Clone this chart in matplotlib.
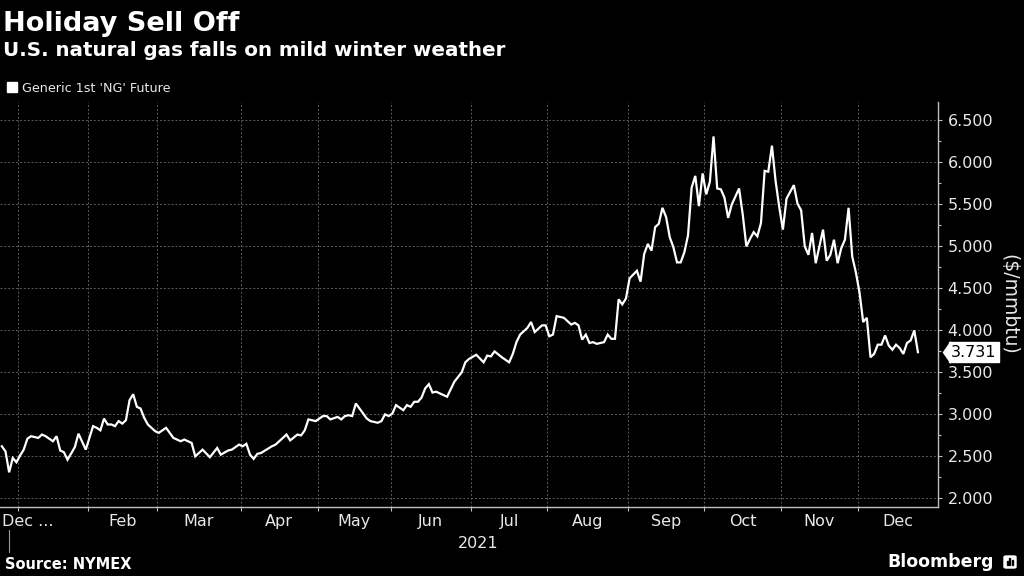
import matplotlib.pyplot as plt
import matplotlib.transforms as mtransforms
from matplotlib.patches import Rectangle, FancyBboxPatch
import numpy as np

# Generic 1st 'NG' future, daily settles
dates = [
    '2020-12-24', '2020-12-28', '2020-12-29', '2020-12-30', '2020-12-31',
    '2021-01-04', '2021-01-05', '2021-01-06', '2021-01-07', '2021-01-11',
    '2021-01-12', '2021-01-13', '2021-01-15', '2021-01-19', '2021-01-20',
    '2021-01-21', '2021-01-22', '2021-01-26', '2021-01-27', '2021-01-29',
    '2021-02-02', '2021-02-03', '2021-02-04', '2021-02-05', '2021-02-08',
    '2021-02-09', '2021-02-10', '2021-02-11', '2021-02-12', '2021-02-16',
    '2021-02-17', '2021-02-18', '2021-02-19', '2021-02-22', '2021-02-23',
    '2021-02-24', '2021-02-26', '2021-03-01', '2021-03-03', '2021-03-04',
    '2021-03-05', '2021-03-09', '2021-03-10', '2021-03-12', '2021-03-15',
    '2021-03-17', '2021-03-19', '2021-03-23', '2021-03-24', '2021-03-26',
    '2021-03-29', '2021-03-31', '2021-04-01', '2021-04-05', '2021-04-06',
    '2021-04-07', '2021-04-08', '2021-04-09', '2021-04-14', '2021-04-15',
    '2021-04-16', '2021-04-20', '2021-04-21', '2021-04-23', '2021-04-26',
    '2021-04-27', '2021-04-28', '2021-04-30', '2021-05-04', '2021-05-05',
    '2021-05-06', '2021-05-10', '2021-05-11', '2021-05-12', '2021-05-13',
    '2021-05-14', '2021-05-17', '2021-05-19', '2021-05-20', '2021-05-21',
    '2021-05-25', '2021-05-26', '2021-05-27', '2021-05-28', '2021-06-01',
    '2021-06-02', '2021-06-04', '2021-06-07', '2021-06-08', '2021-06-09',
    '2021-06-10', '2021-06-11', '2021-06-14', '2021-06-15', '2021-06-16',
    '2021-06-17', '2021-06-21', '2021-06-22', '2021-06-24', '2021-06-28',
    '2021-06-29', '2021-06-30', '2021-07-02', '2021-07-07', '2021-07-08',
    '2021-07-09', '2021-07-12', '2021-07-14', '2021-07-16', '2021-07-19',
    '2021-07-20', '2021-07-21', '2021-07-23', '2021-07-26', '2021-07-27',
    '2021-07-29', '2021-07-30', '2021-08-02', '2021-08-03', '2021-08-04',
    '2021-08-06', '2021-08-10', '2021-08-11', '2021-08-12', '2021-08-13',
    '2021-08-16', '2021-08-17', '2021-08-18', '2021-08-19', '2021-08-23',
    '2021-08-24', '2021-08-25', '2021-08-26', '2021-08-27', '2021-08-30',
    '2021-08-31', '2021-09-01', '2021-09-03', '2021-09-07', '2021-09-08',
    '2021-09-09', '2021-09-10', '2021-09-13', '2021-09-14', '2021-09-15',
    '2021-09-16', '2021-09-17', '2021-09-20', '2021-09-21', '2021-09-22',
    '2021-09-23', '2021-09-24', '2021-09-27', '2021-09-28', '2021-09-29',
    '2021-09-30', '2021-10-01', '2021-10-04', '2021-10-05', '2021-10-06',
    '2021-10-07', '2021-10-08', '2021-10-11', '2021-10-12', '2021-10-14',
    '2021-10-15', '2021-10-18', '2021-10-19', '2021-10-20', '2021-10-21',
    '2021-10-22', '2021-10-25', '2021-10-26', '2021-10-27', '2021-10-28',
    '2021-10-29', '2021-11-01', '2021-11-02', '2021-11-03', '2021-11-04',
    '2021-11-05', '2021-11-08', '2021-11-09', '2021-11-10', '2021-11-11',
    '2021-11-12', '2021-11-15', '2021-11-16', '2021-11-17', '2021-11-18',
    '2021-11-19', '2021-11-22', '2021-11-23', '2021-11-24', '2021-11-26',
    '2021-11-29', '2021-11-30', '2021-12-01', '2021-12-02', '2021-12-03',
    '2021-12-06', '2021-12-07', '2021-12-08', '2021-12-09', '2021-12-10',
    '2021-12-13', '2021-12-14', '2021-12-15', '2021-12-16', '2021-12-17',
    '2021-12-20', '2021-12-21', '2021-12-22', '2021-12-23',
]
prices = [
    2.61, 2.55, 2.30, 2.47, 2.42,
    2.50, 2.57, 2.70, 2.73, 2.71,
    2.75, 2.73, 2.67, 2.73, 2.56,
    2.54, 2.45, 2.60, 2.76, 2.57,
    2.85, 2.83, 2.80, 2.94, 2.87,
    2.87, 2.85, 2.91, 2.88, 2.92,
    3.16, 3.23, 3.08, 3.06, 2.95,
    2.87, 2.79, 2.77, 2.83, 2.77,
    2.71, 2.67, 2.69, 2.65, 2.49,
    2.57, 2.48, 2.59, 2.51, 2.56,
    2.57, 2.63, 2.61, 2.64, 2.51,
    2.46, 2.52, 2.53, 2.61, 2.63,
    2.67, 2.75, 2.68, 2.75, 2.74,
    2.80, 2.93, 2.91, 2.97, 2.97,
    2.93, 2.96, 2.93, 2.97, 2.98,
    2.97, 3.12, 3.00, 2.94, 2.91,
    2.89, 2.91, 2.99, 2.97, 3.00,
    3.10, 3.04, 3.10, 3.08, 3.14,
    3.14, 3.19, 3.30, 3.35, 3.25,
    3.26, 3.22, 3.20, 3.38, 3.49,
    3.61, 3.65, 3.70, 3.61, 3.69,
    3.68, 3.74, 3.67, 3.61, 3.71,
    3.85, 3.94, 4.02, 4.09, 3.97,
    4.05, 4.05, 3.92, 3.94, 4.16,
    4.14, 4.06, 4.08, 4.05, 3.88,
    3.94, 3.84, 3.85, 3.83, 3.85,
    3.94, 3.89, 3.89, 4.36, 4.30,
    4.37, 4.61, 4.70, 4.57, 4.90,
    5.02, 4.94, 5.22, 5.26, 5.45,
    5.34, 5.10, 4.98, 4.80, 4.80,
    4.92, 5.12, 5.69, 5.83, 5.47,
    5.86, 5.61, 5.76, 6.30, 5.68,
    5.67, 5.57, 5.33, 5.49, 5.68,
    5.37, 4.99, 5.08, 5.16, 5.11,
    5.27, 5.89, 5.88, 6.19, 5.77,
    5.46, 5.19, 5.56, 5.64, 5.72,
    5.50, 5.42, 4.99, 4.89, 5.15,
    4.79, 4.99, 5.19, 4.82, 4.89,
    5.07, 4.79, 4.97, 5.07, 5.45,
    4.87, 4.68, 4.44, 4.09, 4.14,
    3.67, 3.71, 3.82, 3.82, 3.93,
    3.81, 3.76, 3.82, 3.78, 3.71,
    3.84, 3.87, 3.99, 3.731,
]

# NYMEX holidays; the chart's x axis counts trading sessions, not calendar days
holidays = ['2020-12-25', '2021-01-01', '2021-01-18', '2021-02-15', '2021-04-02',
            '2021-05-31', '2021-07-05', '2021-09-06', '2021-11-25', '2021-12-24']
start = '2020-12-24'
month_names = ['Jan', 'Feb', 'Mar', 'Apr', 'May', 'Jun',
               'Jul', 'Aug', 'Sep', 'Oct', 'Nov', 'Dec']
y_ticks = [2.0, 2.5, 3.0, 3.5, 4.0, 4.5, 5.0, 5.5, 6.0, 6.5]

BG = 'black'
FG = 'white'
TICK_COL = '#e8e8e8'
GRID_COL = '#5c5c5c'

sessions = np.busday_count(start, np.array(dates, dtype='datetime64[D]'), holidays=holidays)
months = np.arange('2021-01', '2022-02', dtype='datetime64[M]').astype('datetime64[D]')
firsts = np.busday_offset(months, 0, roll='forward', holidays=holidays)
bounds = np.busday_count(start, firsts, holidays=holidays) - 0.5   # Jan 2021 .. Jan 2022
x_left = -0.5
x_right = bounds[-1]

fig = plt.figure(figsize=(10.24, 5.76), dpi=100, facecolor=BG)
ax = fig.add_axes([0.0, 1 - 507 / 576, 938 / 1024, 405 / 576])
ax.set_facecolor(BG)

ax.plot(sessions, prices, color=FG, lw=1.6, solid_joinstyle='miter')

ax.set_xlim(x_left, x_right)
ax.set_ylim(1.887, 6.71)

# month boundaries: ticks + dotted grid; labels sit mid-month on minor ticks
ax.set_xticks(bounds[:12])
ax.set_xticklabels([])
mids = (bounds[1:12] + bounds[2:13]) / 2
ax.set_xticks(mids, minor=True)
ax.set_xticklabels(month_names[1:], minor=True)
ax.tick_params(axis='x', which='major', length=3, width=0.8, color='#bfbfbf', direction='out')
ax.tick_params(axis='x', which='minor', length=0, pad=5, labelsize=11.5, labelcolor=TICK_COL)
ax.text(x_left + 0.6, -0.035, 'Dec ...', transform=ax.get_xaxis_transform(),
        ha='left', va='center', fontsize=11.5, color=TICK_COL)

ax.yaxis.tick_right()
ax.set_yticks(y_ticks)
ax.set_yticklabels([f'{v:.3f}' for v in y_ticks])
ax.set_yticks(np.arange(2.25, 6.6, 0.5), minor=True)
ax.tick_params(axis='y', which='major', length=3, width=0.8, color='#bfbfbf', pad=4,
               labelsize=11.5, labelcolor=TICK_COL)
ax.tick_params(axis='y', which='minor', length=2, width=0.8, color='#bfbfbf')

ax.grid(True, which='major', color=GRID_COL, lw=0.7, ls=(0, (2, 2)))

for side in ['top', 'left']:
    ax.spines[side].set_visible(False)
for side in ['right', 'bottom']:
    ax.spines[side].set_color('#bfbfbf')
    ax.spines[side].set_linewidth(1.0)

ax.yaxis.set_label_position('right')
ax.set_ylabel('($/mmbtu)', rotation=270, color=TICK_COL, fontsize=13.5, labelpad=18)

# year label + separator
ax.text((bounds[0] + x_right) / 2, -0.089, '2021', transform=ax.get_xaxis_transform(),
        ha='center', va='center', fontsize=11.5, color=TICK_COL)
sep_x = (x_left + bounds[0]) / 2
ax.plot([sep_x, sep_x], [-0.057, -0.111], transform=ax.get_xaxis_transform(),
        color='#9a9a9a', lw=0.8, clip_on=False)

# last value tag on the right axis
last = prices[-1]
tag_trans = mtransforms.blended_transform_factory(ax.transAxes, ax.transData)
tip = mtransforms.offset_copy(tag_trans, fig=fig, x=11, y=0, units='dots')
ax.plot([1.0], [last], transform=tip, marker=[(-0.3, 0), (0.05, 0.5), (0.05, -0.5)],
        ms=16.5, color='white', mec='none', clip_on=False)
ax.annotate(f'{last:.3f}', xy=(1.0, last), xycoords=tag_trans, xytext=(13, 0),
            textcoords='offset pixels', ha='left', va='center', fontsize=11.5, color='black',
            bbox=dict(boxstyle='square,pad=0.15', fc='white', ec='white'),
            annotation_clip=False)

# header
fig.text(3 / 1024, 1 - 31 / 576, 'Holiday Sell Off', fontsize=19.5, fontweight='bold',
         color=FG, va='baseline', ha='left')
fig.text(3 / 1024, 1 - 56 / 576, 'U.S. natural gas falls on mild winter weather',
         fontsize=14.3, fontweight='bold', color=FG, va='baseline', ha='left')
fig.patches.append(Rectangle((7 / 1024, 1 - 92 / 576), 10 / 1024, 10 / 576,
                             transform=fig.transFigure, color='white'))
fig.text(22 / 1024, 1 - 92 / 576, "Generic 1st 'NG' Future", fontsize=9.2,
         color=TICK_COL, va='baseline', ha='left')

# footer
fig.text(5 / 1024, 1 - 569 / 576, 'Source: NYMEX', fontsize=10.5, fontweight='bold',
         color=FG, va='baseline', ha='left')
fig.text(994 / 1024, 1 - 567 / 576, 'Bloomberg', fontsize=12.5, fontweight='bold',
         color=FG, va='baseline', ha='right')
fig.patches.append(FancyBboxPatch((1004 / 1024, 1 - 568 / 576), 12 / 1024, 12 / 576,
                                  boxstyle='round,pad=0,rounding_size=0.002',
                                  transform=fig.transFigure, color='white'))
for i, h in enumerate([4, 7, 5]):
    fig.patches.append(Rectangle(((1006.5 + 2.5 * i) / 1024, 1 - 565 / 576), 1.4 / 1024, h / 576,
                                 transform=fig.transFigure, color='black'))

fig.savefig('out.png', dpi=100, facecolor=BG)
